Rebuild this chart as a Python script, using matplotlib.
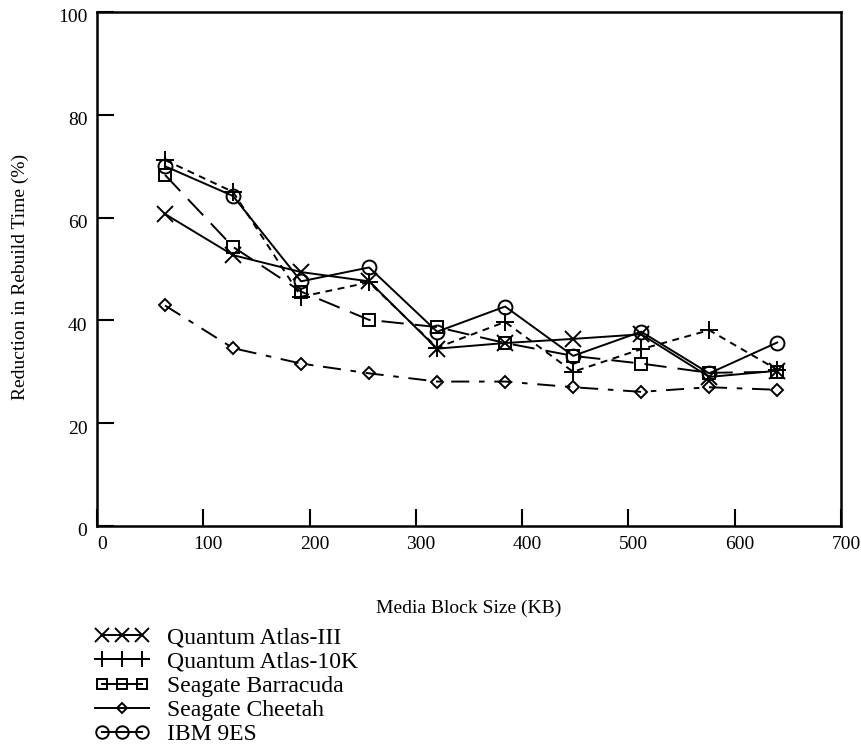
from matplotlib import pyplot as plt
from matplotlib import transforms
from matplotlib.legend_handler import HandlerLine2D

plt.rcParams['font.family'] = ['Liberation Serif', 'DejaVu Serif']
plt.rcParams['lines.scale_dashes'] = False

block_kb = [64, 128, 192, 256, 320, 384, 448, 512, 576, 640]

atlas_iii = [60.7, 52.7, 49.4, 47.6, 34.5, 35.6, 36.4, 37.3, 29.0, 30.2]
atlas_10k = [71.2, 65.0, 44.6, 47.4, 34.7, 39.7, 30.0, 34.4, 38.1, 30.4]
barracuda = [68.3, 54.3, 45.6, 40.1, 38.7, 35.6, 33.1, 31.6, 29.8, 30.0]
cheetah = [42.9, 34.6, 31.6, 29.7, 28.1, 28.1, 27.0, 26.1, 27.0, 26.5]
ibm_9es = [70.0, 64.2, 47.6, 50.3, 37.8, 42.7, 33.1, 37.8, 29.7, 35.7]

labels = ["Quantum Atlas-III", "Quantum Atlas-10K", "Seagate Barracuda",
          "Seagate Cheetah", "IBM 9ES"]

fig = plt.figure(figsize=(8.62, 7.45), dpi=100)
ax = fig.add_axes([97 / 862, 1 - 526 / 745, 744 / 862, 514 / 745])

kw = dict(color="black", linewidth=1.4, markerfacecolor="none",
          markeredgecolor="black", markeredgewidth=1.4)
l1, = ax.plot(block_kb, atlas_iii, linestyle="-", marker="x", markersize=11.5, **kw)
l2, = ax.plot(block_kb, atlas_10k, linestyle=(0, (5, 4)), marker="+", markersize=13, **kw)
l3, = ax.plot(block_kb, barracuda, linestyle=(0, (16, 8)), marker="s", markersize=8.5, **kw)
l4, = ax.plot(block_kb, cheetah, linestyle=(0, (13, 7, 4, 7)), marker="D", markersize=6, **kw)
l5, = ax.plot(block_kb, ibm_9es, linestyle="-", marker="o", markersize=10, **kw)

ax.set_xlim(0, 700)
ax.set_ylim(0, 100)
ax.set_xticks(range(0, 701, 100))
ax.set_yticks(range(0, 101, 20))
ax.tick_params(direction="in", length=12, width=1.5, labelsize=14, pad=7,
               top=False, right=False)
for s in ax.spines.values():
    s.set_linewidth(1.8)

# tick labels in the original sit a little right / below their ticks
dx = transforms.ScaledTranslation(5 / 100, 0, fig.dpi_scale_trans)
for t in ax.get_xticklabels():
    t.set_transform(t.get_transform() + dx)
dy = transforms.ScaledTranslation(0, -4 / 100, fig.dpi_scale_trans)
for t in ax.get_yticklabels():
    t.set_transform(t.get_transform() + dy)

ax.set_xlabel("Media Block Size (KB)", fontsize=14)
ax.xaxis.set_label_coords(0.5, -0.144)
ax.xaxis.label.set_va("top")
ax.set_ylabel("Reduction in Rebuild Time (%)", fontsize=14)
ax.yaxis.set_label_coords(-0.092, 0.484)


def solid_handle(handle, orig):
    handle.update_from(orig)
    handle.set_linestyle("-")
    handle.set_markersize(orig.get_markersize() * 0.9)


fig.legend([l1, l2, l3, l4, l5], labels, loc="upper left",
           bbox_to_anchor=(95 / 862, 1 - 627 / 745), bbox_transform=fig.transFigure,
           frameon=False, fontsize=17, numpoints=3, handlelength=2.3,
           handletextpad=0.75, labelspacing=0.11, borderpad=0, borderaxespad=0,
           handler_map={l1: HandlerLine2D(update_func=solid_handle),
                        l2: HandlerLine2D(update_func=solid_handle),
                        l3: HandlerLine2D(update_func=solid_handle),
                        l4: HandlerLine2D(numpoints=1, update_func=solid_handle),
                        l5: HandlerLine2D(update_func=solid_handle)})

fig.savefig("out.png", dpi=100)
